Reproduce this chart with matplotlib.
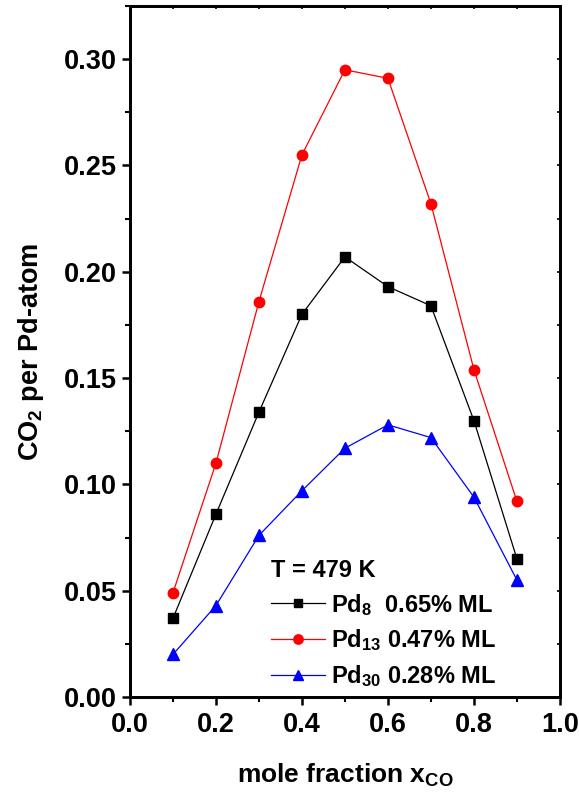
import matplotlib
matplotlib.use('Agg')
import matplotlib.pyplot as plt
from matplotlib.ticker import MultipleLocator, FormatStrFormatter

plt.rcParams['font.family'] = ['Liberation Sans', 'DejaVu Sans']
plt.rcParams['font.weight'] = 'bold'
plt.rcParams['mathtext.fontset'] = 'custom'
plt.rcParams['mathtext.rm'] = 'Liberation Sans:bold'
plt.rcParams['mathtext.bf'] = 'Liberation Sans:bold'
plt.rcParams['mathtext.default'] = 'rm'

# data
x_co = [0.1, 0.2, 0.3, 0.4, 0.5, 0.6, 0.7, 0.8, 0.9]
pd8 = [0.037, 0.086, 0.134, 0.180, 0.207, 0.193, 0.184, 0.130, 0.065]
pd13 = [0.049, 0.110, 0.186, 0.255, 0.295, 0.291, 0.232, 0.154, 0.092]
pd30 = [0.020, 0.043, 0.076, 0.097, 0.117, 0.128, 0.122, 0.094, 0.055]
labels = [r'Pd$_{8}$  0.65% ML', r'Pd$_{13}$ 0.47% ML', r'Pd$_{30}$ 0.28% ML']

fig = plt.figure(figsize=(5.79, 7.92), dpi=100)
ax = fig.add_axes([0.2245, 0.12, 0.7425, 0.8724])

ax.plot(x_co, pd8, '-s', color='black', lw=0.9, ms=6.5, label=labels[0])
ax.plot(x_co, pd13, '-o', color='red', lw=0.9, ms=7.5, label=labels[1])
ax.plot(x_co, pd30, '-^', color='blue', lw=0.9, ms=8.5, label=labels[2])

ax.set_xlim(0, 1.0)
ax.set_ylim(0, 0.325)
ax.xaxis.set_major_locator(MultipleLocator(0.2))
ax.xaxis.set_minor_locator(MultipleLocator(0.1))
ax.yaxis.set_major_locator(MultipleLocator(0.05))
ax.yaxis.set_minor_locator(MultipleLocator(0.025))
ax.xaxis.set_major_formatter(FormatStrFormatter('%.1f'))
ax.yaxis.set_major_formatter(FormatStrFormatter('%.2f'))

for s in ax.spines.values():
    s.set_linewidth(1.8)
ax.tick_params(which='major', direction='out', length=6, width=1.8, labelsize=19.5)
ax.tick_params(which='minor', direction='out', length=3.5, width=1.5)
ax.tick_params(axis='x', which='major', pad=5)

# small inward ticks on top and right
tx = ax.twiny()
tx.set_xlim(ax.get_xlim())
tx.xaxis.set_major_locator(MultipleLocator(0.1))
tx.tick_params(direction='in', length=2, width=1.2, labeltop=False)
ty = ax.twinx()
ty.set_ylim(ax.get_ylim())
ty.yaxis.set_major_locator(MultipleLocator(0.025))
ty.tick_params(direction='in', length=2, width=1.2, labelright=False)
for a in (tx, ty):
    for s in a.spines.values():
        s.set_linewidth(1.8)

ax.set_xlabel(r'mole fraction x$_{CO}$', fontsize=19, fontweight='bold', labelpad=17)
ax.set_ylabel(r'CO$_{2}$ per Pd-atom', fontsize=19.5, fontweight='bold', labelpad=13)

leg = ax.legend(loc='upper left', bbox_to_anchor=(0.328, 0.2), frameon=False,
                title='T = 479 K', fontsize=17, numpoints=1, handlelength=2.3,
                handletextpad=0.25, labelspacing=0.42, borderaxespad=0, borderpad=0,
                markerscale=0.9)
leg.get_title().set_fontsize(17)
leg.get_title().set_fontweight('bold')
leg._legend_box.align = 'left'

fig.savefig('out.png', dpi=100)
